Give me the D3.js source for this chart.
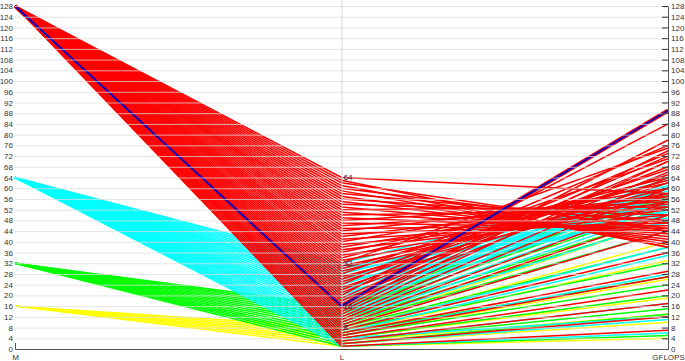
<!DOCTYPE html>
<html>
<head>
<meta charset="utf-8">
<script src="https://cdn.jsdelivr.net/npm/d3@7"></script>
<style>
html,body{margin:0;padding:0;background:#fff;}
svg{display:block;font-family:"Liberation Sans",Arial,sans-serif;}
</style>
</head>
<body>
<svg id="chart" width="685" height="361"></svg>
<script>
// ---- data ----
const dimensions = ["M", "L", "GFLOPS"];
const mValues = [128, 64, 32, 16];
const mColors = ["#ff0000", "#00ffff", "#00ff00", "#ffff00"];
// GFLOPS for L = 1, 2, 3, ... (one entry per L) for each M
const gflopsM128 = [7, 12, 17, 22, 27, 29, 36, 44, 50, 55, 60, 64, 70, 74, 78, 89,
  66, 70, 72, 84, 68, 73, 62, 76, 65, 67, 58, 71, 60, 63, 57, 75,
  55, 64, 53, 62, 52, 58, 50, 60, 48, 56, 47, 57, 46, 54, 45, 55,
  44, 52, 43, 53, 42, 50, 41, 48, 40, 47, 39, 45, 38, 44, 38, 58];
const gflopsM64 = [6, 11, 17, 12, 28, 35, 38, 44, 48, 52, 55, 58, 60, 62, 64, 66,
  54, 58, 56, 61, 52, 57, 50, 60, 53, 55, 49, 59, 51, 54, 47, 63];
const gflopsM32 = [5, 13, 15, 20, 24, 27, 32, 38, 44, 48, 50, 53, 56, 58, 57, 60];
const gflopsM16 = [4, 10, 13, 19, 26, 33, 40, 48];
const best = {M: 128, L: 16, GFLOPS: 89};
const axisTicks = [0, 4, 8, 12, 16, 20, 24, 28, 32, 36, 40, 44, 48, 52, 56, 60, 64,
  68, 72, 76, 80, 84, 88, 92, 96, 100, 104, 108, 112, 116, 120, 124, 128];
const lTicks = [8, 16, 32, 64];

const seriesByM = [gflopsM128, gflopsM64, gflopsM32, gflopsM16];
const rows = [];
mValues.forEach((m, i) => {
  seriesByM[i].forEach((g, j) => rows.push({M: m, L: j + 1, GFLOPS: g, color: mColors[i]}));
});

// ---- layout ----
const svg = d3.select("#chart");
const x = d3.scalePoint().domain(dimensions).range([15, 668]);
const y = d3.scaleLinear().domain([0, 128]).range([349, 6]);

const line = d => d3.line()(dimensions.map(k => [x(k), y(d[k])]));

// lines: draw yellow first, red last
const order = [3, 2, 1, 0];
const gLines = svg.append("g").attr("fill", "none");
order.forEach(i => {
  gLines.selectAll(null)
    .data(rows.filter(r => r.M === mValues[i]))
    .join("path")
    .attr("d", line)
    .attr("stroke", mColors[i])
    .attr("stroke-width", 1.5);
});

// highlighted best configuration
svg.append("path").attr("d", line(best)).attr("fill", "none")
  .attr("stroke", "#ff0000").attr("stroke-width", 4);
svg.append("path").attr("d", line(best)).attr("fill", "none")
  .attr("stroke", "#0000c8").attr("stroke-width", 1.8);

// horizontal grid on top
svg.append("g").selectAll("line").data(axisTicks.filter(t => t > 0)).join("line")
  .attr("x1", x("M")).attr("x2", x("GFLOPS"))
  .attr("y1", d => y(d) + 0.5).attr("y2", d => y(d) + 0.5)
  .attr("stroke", "#dcdcdc").attr("stroke-opacity", 0.75).attr("stroke-width", 1);

// vertical grid at L
svg.append("line").attr("x1", x("L") + 0.5).attr("x2", x("L") + 0.5)
  .attr("y1", 0).attr("y2", y(0))
  .attr("stroke", "#d8d8d8").attr("stroke-width", 1);

// left axis labels
const leftAxis = d3.axisLeft(y).tickValues(axisTicks).tickSize(0).tickPadding(2);
const gl = svg.append("g").attr("transform", `translate(${x("M")},0)`).call(leftAxis);
gl.select(".domain").remove();
gl.selectAll("text").attr("font-size", 8).attr("fill", "#333").attr("font-family", "Liberation Sans, Arial, sans-serif");

// right axis
const rightAxis = d3.axisRight(y).tickValues(axisTicks).tickSize(0).tickPadding(3);
const gr = svg.append("g").attr("transform", `translate(${x("GFLOPS")},0)`).call(rightAxis);
gr.select(".domain").attr("stroke", "#555");
gr.selectAll("text").attr("font-size", 8).attr("fill", "#333").attr("font-family", "Liberation Sans, Arial, sans-serif");
gr.selectAll(".tick").append("line").attr("x1", -6).attr("x2", 0).attr("stroke", "#333");

// middle axis labels
svg.append("g").selectAll("text").data(lTicks).join("text")
  .attr("x", x("L") + 2).attr("y", d => y(d)).attr("dy", "0.32em")
  .attr("font-size", 8).attr("fill", "#222244").text(d => d);

// bottom axis
const bottomAxis = d3.axisBottom(x).tickSize(0).tickSizeOuter(-6).tickPadding(5);
const gb = svg.append("g").attr("transform", `translate(0,${y(0)})`).call(bottomAxis);
gb.select(".domain").attr("stroke", "#555");
gb.selectAll("text").attr("font-size", 8).attr("fill", "#333").attr("font-family", "Liberation Sans, Arial, sans-serif");
</script>
</body>
</html>
